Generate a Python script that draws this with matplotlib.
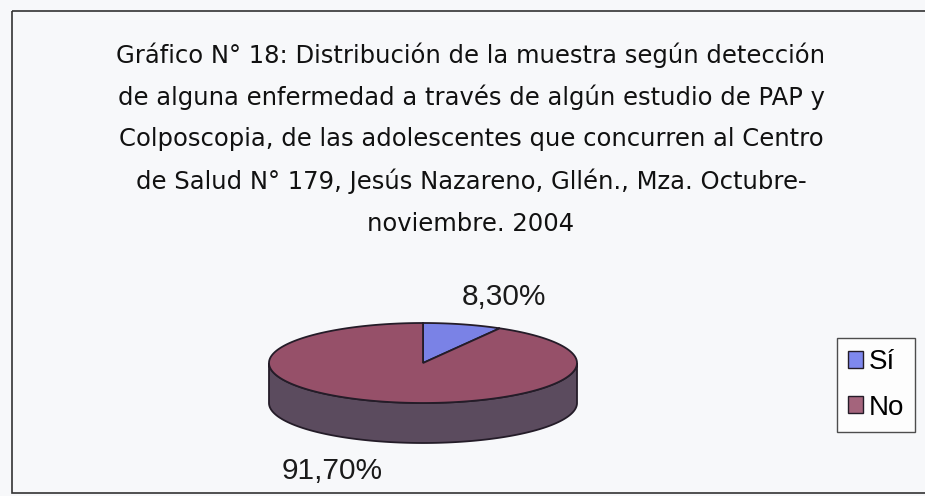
import numpy as np
import matplotlib.pyplot as plt
import matplotlib.patches as mpatches

# data
labels = ['Sí', 'No']
values = [8.3, 91.7]
pct_labels = ['8,30%', '91,70%']
title_lines = [
    'Gráfico N° 18: Distribución de la muestra según detección',
    'de alguna enfermedad a través de algún estudio de PAP y',
    'Colposcopia, de las adolescentes que concurren al Centro',
    'de Salud N° 179, Jesús Nazareno, Gllén., Mza. Octubre-',
    'noviembre. 2004',
]

top_colors = ['#7a82e6', '#965069']
side_color = '#5b4b5e'
edge = '#241c28'
bg = '#f7f8fa'

fig = plt.figure(figsize=(9.25, 4.96), dpi=100, facecolor=bg)
ax = fig.add_axes([0, 0, 1, 1])
ax.set_xlim(0, 925)
ax.set_ylim(496, 0)
ax.axis('off')
ax.set_facecolor(bg)

# outer frame (right side runs off the scan)
ax.add_patch(mpatches.Rectangle((12, 11), 940, 482, fill=False, ec='#333333', lw=1.2))

# title
for i, line in enumerate(title_lines):
    ax.text(471, 55 + i * 42.2, line, ha='center', va='center', fontsize=17.5,
            family='DejaVu Sans', color='#111111')

# 3d pie
cx, cy, rx, ry, depth = 423, 363, 154, 40, 40

def ell(t):
    t = np.radians(t)
    return cx + rx * np.cos(t), cy - ry * np.sin(t)

# side (front half)
t = np.linspace(180, 360, 200)
x, y = ell(t)
side = np.column_stack([np.r_[x, x[::-1]], np.r_[y, y[::-1] + depth]])
ax.add_patch(mpatches.Polygon(side, closed=True, fc=side_color, ec=edge, lw=1.3))

# top wedges, starting at 12 o'clock, clockwise
start = 90.0
for v, c in zip(values, top_colors):
    span = v / sum(values) * 360
    t = np.linspace(start, start - span, 300)
    x, y = ell(t)
    pts = np.column_stack([np.r_[cx, x], np.r_[cy, y]])
    ax.add_patch(mpatches.Polygon(pts, closed=True, fc=c, ec=edge, lw=1.3))
    start -= span

ax.text(504, 297, pct_labels[0], ha='center', va='center', fontsize=21.5,
        family='Liberation Sans', color='#1a1a1a')
ax.text(332, 471, pct_labels[1], ha='center', va='center', fontsize=21.5,
        family='Liberation Sans', color='#1a1a1a')

# legend
handles = [mpatches.Patch(fc=c, ec=edge, lw=1, label=l) for c, l in zip(['#7f88ee', '#a4647c'], labels)]
leg = fig.legend(handles=handles, loc='upper left', bbox_to_anchor=(837 / 925, 1 - 338 / 496),
                 frameon=True, fancybox=False, edgecolor='#222222', facecolor='white',
                 prop={'family': 'Liberation Sans', 'size': 20}, handlelength=0.55,
                 handleheight=0.55, handletextpad=0.2, borderpad=0.4, labelspacing=0.7,
                 borderaxespad=0)
leg.get_frame().set_linewidth(1.0)

fig.savefig('out.png', dpi=100, facecolor=bg)
